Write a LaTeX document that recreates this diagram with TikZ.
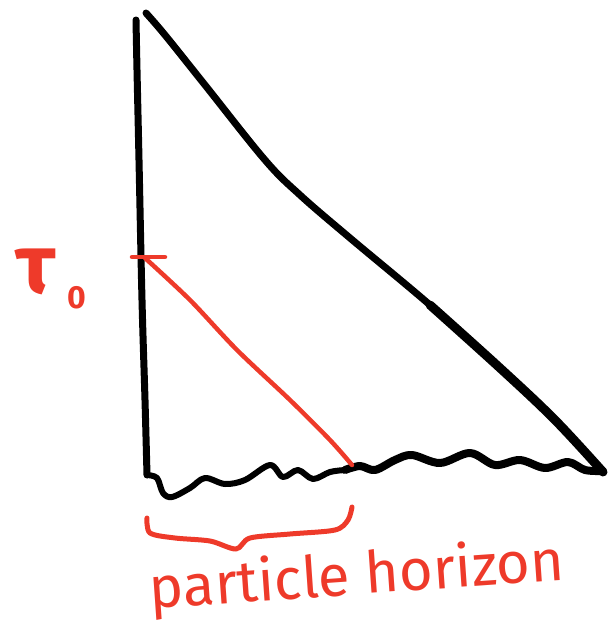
\documentclass[tikz,border=0pt]{standalone}
\usepackage{fontspec}
\setsansfont{Fira Sans}
\definecolor{pen}{HTML}{EE3A2A}
\begin{document}
\begin{tikzpicture}[x=1pt,y=-1pt,line cap=round,line join=round,
  blackpen/.style={draw=black,line width=7pt},
  redpen/.style={draw=pen,line width=4.5pt},
  lbl/.style={text=pen,inner sep=0pt}]
\useasboundingbox (0,0) rectangle (609,622);
% vertical edge
\draw[blackpen] plot[smooth,tension=0.6] coordinates {(136,20) (137,70) (139,160) (142,300) (145,400) (147,475)};
% hypotenuse
\draw[blackpen] plot[smooth,tension=0.6] coordinates {(146,13) (165,35) (205,85) (265,160) (300,195) (350,238) (430,305) (500,368) (555,420) (603,472)};
\draw[draw=black,line width=9pt] plot[smooth,tension=0.6] coordinates {(430,305) (500,368) (555,420) (603,472)};
% wavy bottom
\draw[blackpen,line width=6pt] plot[smooth,tension=0.55] coordinates {(147,475) (157,478) (163,493) (172,497) (190,488) (205,478) (225,484) (245,480) (270,465) (283,477) (298,470) (313,479) (330,472) (345,470)};
\draw[blackpen,line width=8pt] plot[smooth,tension=0.55] coordinates {(345,470) (360,466) (375,470) (395,460) (412,455) (440,463) (470,453) (495,465) (520,460) (545,468) (568,462) (585,470) (603,471)};
% tau_0 label
\node[lbl,font=\sffamily\bfseries\fontsize{84}{84}\selectfont] (tau) at (36,272) {τ};
\node[lbl,font=\sffamily\bfseries\fontsize{32}{32}\selectfont] (sub) at (77,298) {0};
% red tick and light ray
\coordinate (t0) at (145,258);
\coordinate (ph) at (352,465);
\draw[redpen] (132,257) -- (165,257);
\draw[redpen] plot[smooth,tension=0.5] coordinates {(t0) (190,300) (237,350) (290,400) (330,440) (ph)};
% brace
\draw[redpen,line width=5pt] plot[smooth,tension=0.5] coordinates {(147,518) (150,533) (175,538) (210,541) (236,549) (250,538) (290,534) (335,530) (348,520) (352,507)};
\node[lbl,font=\sffamily\fontsize{58}{58}\selectfont,rotate=4] (label) at (357,578) {particle horizon};
\end{tikzpicture}
\end{document}
